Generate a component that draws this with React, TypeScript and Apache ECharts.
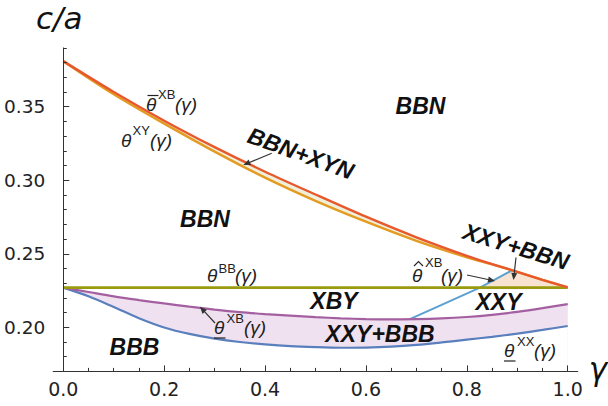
import React, { useEffect, useRef } from 'react';
import * as echarts from 'echarts';

// ---- tick values ----
const xMajorTicks = [0, 0.2, 0.4, 0.6, 0.8, 1.0];
const xMinorTicks = [0.05, 0.1, 0.15, 0.25, 0.3, 0.35, 0.45, 0.5, 0.55, 0.65, 0.7, 0.75, 0.85, 0.9, 0.95];
const yMajorTicks = [0.2, 0.25, 0.3, 0.35];
const yMinorTicks = [0.18, 0.19, 0.21, 0.22, 0.23, 0.24, 0.26, 0.27, 0.28, 0.29, 0.31, 0.32, 0.33, 0.34, 0.36, 0.37, 0.38, 0.39];

// ---- curves ----
const gammaTop = [0, 0.1, 0.2, 0.3, 0.4, 0.5, 0.6, 0.7, 0.8, 0.85, 0.9, 0.95, 1.0];
// upper bound  θ̄^XB(γ)  (red)
const thetaBarXB = [0.381, 0.36, 0.3405, 0.3225, 0.3058, 0.2903, 0.2752, 0.2612, 0.2486, 0.243, 0.2377, 0.2323, 0.2272];
// θ^XY(γ)  (orange) – merges into the red curve near γ≈0.85
const thetaXY = [0.381, 0.3585, 0.3385, 0.3195, 0.3018, 0.286, 0.2718, 0.2588, 0.2476, 0.2428, 0.2377, 0.2323, 0.2272];
// θ^BB(γ)  (olive)
const gammaBB = [0, 1.0];
const thetaBB = [0.227, 0.227];
// lower curves
const gammaLow = [0, 0.05, 0.1, 0.15, 0.2, 0.25, 0.3, 0.35, 0.4, 0.45, 0.5, 0.55, 0.6, 0.65, 0.7, 0.75, 0.8, 0.85, 0.9, 0.95, 1.0];
// θ_XB(γ) underlined (purple)
const thetaUnderXB = [0.227, 0.224, 0.221, 0.2185, 0.2162, 0.214, 0.212, 0.2103, 0.209, 0.2079, 0.2069, 0.2061, 0.2056, 0.2054, 0.2055, 0.206, 0.207, 0.2085, 0.2105, 0.213, 0.2158];
// θ_XX(γ) underlined (blue)
const thetaUnderXX = [0.227, 0.2211, 0.2138, 0.2062, 0.1999, 0.1955, 0.1923, 0.19, 0.1884, 0.1872, 0.1865, 0.1861, 0.1862, 0.1868, 0.188, 0.1897, 0.1916, 0.1935, 0.1957, 0.1982, 0.2009];
// θ̂^XB(γ)  (light blue)
const gammaHat = [0.687, 0.75, 0.826, 0.888];
const thetaHatXB = [0.2055, 0.2152, 0.227, 0.2384];

const zip = (xs: number[], ys: number[]) => xs.map((x, i) => [x, ys[i]]);

const COLORS = {
  red: '#E9582C',
  orange: '#E39B22',
  olive: '#9A9A0E',
  purple: '#A45FA1',
  blue: '#5A7FBD',
  light: '#5BA0D0',
  bandPurple: '#F0E1F0',
  bandCream: '#EFF0DC',
  bandPeach: '#F7E3D0',
};

const SMOOTH = 0.3;

function peachPolygon() {
  const red = zip(gammaTop, thetaBarXB);
  const hat = zip(gammaHat, thetaHatXB);
  const hatAbove = hat.filter((p) => p[1] >= thetaBB[0] - 1e-9);
  const hatEnd = hat[hat.length - 1];
  const redRight = red.filter((p) => p[0] > hatEnd[0]).reverse();
  return [hatAbove[0], [gammaBB[1], thetaBB[1]], ...redRight, ...hatAbove.slice(1).reverse()];
}

function polySeries(poly: number[][], fill: string) {
  return {
    type: 'custom',
    xAxisIndex: 0,
    yAxisIndex: 0,
    silent: true,
    z: 1,
    data: [[0.5, 0.2]],
    renderItem: (_params: any, api: any) => ({
      type: 'polygon',
      shape: { points: poly.map((p) => api.coord(p)) },
      style: { fill, stroke: null },
    }),
  };
}

// area under a curve down to the axis minimum (used as layered fills)
function areaSeries(xs: number[], ys: number[], fill: string) {
  return {
    type: 'line', xAxisIndex: 0, yAxisIndex: 0, silent: true, z: 1,
    data: zip(xs, ys), showSymbol: false, symbol: 'none', smooth: SMOOTH,
    lineStyle: { width: 0, opacity: 0 },
    areaStyle: { color: fill, opacity: 1, origin: 'start' },
  };
}

function lineSeries(xs: number[], ys: number[], color: string, width: number, smooth: number | boolean) {
  return {
    type: 'line',
    xAxisIndex: 0,
    yAxisIndex: 0,
    data: zip(xs, ys),
    showSymbol: false,
    symbol: 'none',
    silent: true,
    smooth,
    z: 3,
    lineStyle: { color, width },
  };
}

const GZ = 50;

function arrow(x1: number, y1: number, x2: number, y2: number) {
  const color = '#333';
  const dx = x2 - x1;
  const dy = y2 - y1;
  const L = Math.hypot(dx, dy);
  const ux = dx / L;
  const uy = dy / L;
  const hl = 7;
  const hw = 3;
  const bx = x2 - ux * hl;
  const by = y2 - uy * hl;
  return [
    { type: 'line', z: GZ, silent: true, shape: { x1, y1, x2: bx + ux, y2: by + uy }, style: { stroke: color, lineWidth: 1.2 } },
    {
      type: 'polygon', z: GZ,
      silent: true,
      shape: { points: [[x2, y2], [bx - uy * hw, by + ux * hw], [bx + uy * hw, by - ux * hw]] },
      style: { fill: color },
    },
  ];
}

const MATH_FONT = 'Liberation Sans, Arial, sans-serif';
const MFS = 19;
const SFS = 13;

function mathLabel(
  thetaX: number,
  baseline: number,
  sup: string,
  supX: number,
  supCy: number,
  parX: number,
  deco: 'bar' | 'under' | 'hat' | 'none'
) {
  const cy = baseline - 0.35 * MFS;
  const els: any[] = [
    {
      type: 'text', z: GZ, silent: true, x: thetaX, y: cy,
      style: { text: 'θ', font: `italic ${MFS}px ${MATH_FONT}`, fill: '#222', align: 'left', verticalAlign: 'middle' },
    },
    {
      type: 'text', z: GZ, silent: true, x: supX, y: supCy,
      style: { text: sup, font: `${SFS}px ${MATH_FONT}`, fill: '#222', align: 'left', verticalAlign: 'middle' },
    },
    {
      type: 'text', z: GZ, silent: true, x: parX, y: cy,
      style: { text: '(γ)', font: `italic ${MFS}px ${MATH_FONT}`, fill: '#222', align: 'left', verticalAlign: 'middle' },
    },
  ];
  if (deco === 'bar') {
    els.push({ type: 'line', z: GZ, silent: true, shape: { x1: thetaX + 1.5, y1: baseline - 15.5, x2: thetaX + 12.5, y2: baseline - 15.5 }, style: { stroke: '#222', lineWidth: 1.2 } });
  } else if (deco === 'under') {
    els.push({ type: 'line', z: GZ, silent: true, shape: { x1: thetaX, y1: baseline + 4, x2: thetaX + 11.5, y2: baseline + 4 }, style: { stroke: '#222', lineWidth: 1.2 } });
  } else if (deco === 'hat') {
    els.push({
      type: 'polyline', z: GZ, silent: true,
      shape: { points: [[thetaX + 2, baseline - 16], [thetaX + 6.5, baseline - 20.5], [thetaX + 11, baseline - 16]] },
      style: { stroke: '#222', lineWidth: 1.1, fill: null },
    });
  }
  return els;
}

function regionLabel(text: string, x: number, y: number, rotDeg = 0) {
  return {
    type: 'text',
    z: GZ,
    silent: true,
    x,
    y,
    rotation: (rotDeg * Math.PI) / 180,
    style: {
      text,
      font: 'italic bold 23px Liberation Sans, Arial, sans-serif',
      fill: '#111',
      align: 'center',
      verticalAlign: 'middle',
    },
  };
}

export default function App() {
  const ref = useRef<HTMLDivElement>(null);

  useEffect(() => {
    if (!ref.current) return;
    const chart = echarts.init(ref.current, undefined, { renderer: 'svg' });

    const axisColor = '#333';
    const labelFont = 'DejaVu Sans, sans-serif';

    const option: any = {
      animation: false,
      backgroundColor: '#ffffff',
      grid: { left: 53.2, right: 30.2, top: 47.9, bottom: 34.6, containLabel: false },
      xAxis: [
        {
          type: 'value', min: -0.02, max: 1.02, position: 'bottom', z: 10,
          axisLine: { show: true, onZero: false, lineStyle: { color: axisColor, width: 1 } },
          axisTick: { show: true, inside: true, length: 6, customValues: xMajorTicks, lineStyle: { color: axisColor, width: 1 } },
          axisLabel: {
            show: true, customValues: xMajorTicks, formatter: (v: number) => v.toFixed(1),
            color: '#222', fontSize: 19, fontFamily: labelFont, margin: 8,
          },
          splitLine: { show: false },
        },
        {
          type: 'value', min: -0.02, max: 1.02, position: 'bottom', z: 10,
          axisLine: { show: false, onZero: false },
          axisTick: { show: true, inside: true, length: 3.5, customValues: xMinorTicks, lineStyle: { color: axisColor, width: 1 } },
          axisLabel: { show: false },
          splitLine: { show: false },
        },
      ],
      yAxis: [
        {
          type: 'value', min: 0.17, max: 0.39, position: 'left', z: 10,
          axisLine: { show: true, onZero: true, onZeroAxisIndex: 0, lineStyle: { color: axisColor, width: 1 } },
          axisTick: { show: true, inside: true, length: 6, customValues: yMajorTicks, lineStyle: { color: axisColor, width: 1 } },
          axisLabel: {
            show: true, customValues: yMajorTicks, formatter: (v: number) => v.toFixed(2),
            color: '#222', fontSize: 18.5, fontFamily: labelFont, margin: 8,
          },
          splitLine: { show: false },
        },
        {
          type: 'value', min: 0.17, max: 0.39, position: 'left', z: 10,
          axisLine: { show: false, onZero: true, onZeroAxisIndex: 0 },
          axisTick: { show: true, inside: true, length: 3.5, customValues: yMinorTicks, lineStyle: { color: axisColor, width: 1 } },
          axisLabel: { show: false },
          splitLine: { show: false },
        },
      ],
      series: [
        // layered fills: cream band between red and orange, purple band between purple and blue
        areaSeries(gammaTop, thetaBarXB, COLORS.bandCream),
        areaSeries(gammaTop, thetaXY, '#ffffff'),
        areaSeries(gammaLow, thetaUnderXB, COLORS.bandPurple),
        areaSeries(gammaLow, thetaUnderXX, '#ffffff'),
        polySeries(peachPolygon(), COLORS.bandPeach),
        lineSeries(gammaHat, thetaHatXB, COLORS.light, 2, false),
        lineSeries(gammaLow, thetaUnderXX, COLORS.blue, 2.2, SMOOTH),
        lineSeries(gammaLow, thetaUnderXB, COLORS.purple, 2.2, SMOOTH),
        lineSeries(gammaBB, thetaBB, COLORS.olive, 2.6, false),
        lineSeries(gammaTop, thetaXY, COLORS.orange, 2.4, SMOOTH),
        lineSeries(gammaTop, thetaBarXB, COLORS.red, 2.4, SMOOTH),
      ],
      graphic: [
        // axis titles
        {
          type: 'text', z: GZ, silent: true, x: 36, y: 18,
          style: { text: 'c/a', font: 'italic 31px DejaVu Sans, sans-serif', fill: '#111', align: 'left', verticalAlign: 'middle' },
        },
        {
          type: 'text', z: GZ, silent: true, x: 598, y: 369,
          style: { text: 'γ', font: 'italic 31px DejaVu Sans, sans-serif', fill: '#111', align: 'center', verticalAlign: 'middle' },
        },
        // region labels
        regionLabel('BBN', 420.5, 105.5),
        regionLabel('BBN', 205, 219),
        regionLabel('BBN+XYN', 300.8, 153.3, -20),
        regionLabel('XXY+BBN', 516, 246.5, -17),
        regionLabel('XBY', 334, 300.5),
        regionLabel('XXY', 498.5, 301.5),
        regionLabel('XXY+BBB', 380, 333.5),
        regionLabel('BBB', 134.5, 346.5),
        // curve labels
        ...mathLabel(146, 111, 'XB', 158, 94, 175, 'bar'),
        ...mathLabel(121, 147, 'XY', 132.5, 130, 150, 'none'),
        ...mathLabel(207, 282, 'BB', 218.5, 268, 235, 'none'),
        ...mathLabel(214, 334, 'XB', 226.5, 318, 244, 'under'),
        ...mathLabel(412, 282, 'XB', 425, 262.5, 441, 'hat'),
        ...mathLabel(504, 357, 'XX', 517, 341, 534, 'under'),
        // arrows
        ...arrow(271.7, 153.3, 243.3, 165),
        ...arrow(516, 257.5, 513.5, 280),
        ...arrow(215, 323, 200, 306.7),
        ...arrow(467, 275, 495, 281),
      ],
    };

    chart.setOption(option);
    return () => {
      chart.dispose();
    };
  }, []);

  return (
    <div
      ref={ref}
      style={{ position: 'absolute', left: 0, top: 0, width: 608, height: 406, background: '#fff' }}
    />
  );
}
